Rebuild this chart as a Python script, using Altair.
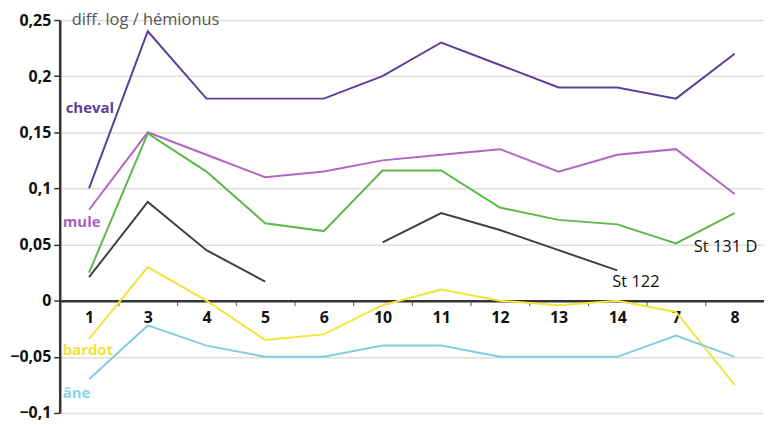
import altair as alt
import pandas as pd

cats = ["1", "3", "4", "5", "6", "10", "11", "12", "13", "14", "7", "8"]
cheval = [0.10, 0.24, 0.18, 0.18, 0.18, 0.20, 0.23, 0.21, 0.19, 0.19, 0.18, 0.22]
mule = [0.081, 0.15, 0.13, 0.11, 0.115, 0.125, 0.13, 0.135, 0.115, 0.13, 0.135, 0.095]
st131 = [0.025, 0.149, 0.115, 0.069, 0.062, 0.116, 0.116, 0.083, 0.072, 0.068, 0.051, 0.078]
st122 = [0.021, 0.088, 0.045, 0.017, None, 0.052, 0.078, 0.063, 0.045, 0.027, None, None]
bardot = [-0.034, 0.030, 0.0, -0.035, -0.030, -0.004, 0.010, 0.0, -0.004, 0.0, -0.010, -0.075]
ane = [-0.07, -0.022, -0.040, -0.050, -0.050, -0.040, -0.040, -0.050, -0.050, -0.050, -0.031, -0.050]

series_names = ["cheval", "mule", "St 131 D", "St 122", "bardot", "âne"]
series_values = [cheval, mule, st131, st122, bardot, ane]
series_colors = ["#5B3F98", "#B266C4", "#5CB848", "#404040", "#F2E43C", "#80CDE3"]

rows = []
for name, vals in zip(series_names, series_values):
    seg = 0
    for c, v in zip(cats, vals):
        if v is None:
            seg += 1
            continue
        rows.append({"series": name, "seg": f"{name}-{seg}", "cat": c, "value": v})
df = pd.DataFrame(rows)

# series labels (bold, at the left of the plot)
side_text = ["cheval", "mule", "bardot", "âne"]
side_y = [0.172, 0.070, -0.044, -0.082]
side_dx = [6, 3, 3, 3]
side_color = ["#5B3F98", "#A860C0", "#F2E33A", "#8AD3E8"]

# plain annotations
note_text = ["St 122", "St 131 D", "diff. log / hémionus"]
note_cat = ["14", "7", "1"]
note_y = [0.017, 0.048, 0.250]
note_dx = [-5, 18, 12]
note_band = [0.5, 0.5, 0.0]
note_color = ["#111111", "#111111", "#555555"]

H = 395
xscale = alt.Scale(domain=cats, paddingInner=0, paddingOuter=0)
yscale = alt.Scale(domain=[-0.1, 0.25], nice=False, zero=False)

lines = alt.Chart(df).mark_line(strokeWidth=2).encode(
    x=alt.X("cat:N", sort=cats, scale=xscale, title=None,
            axis=alt.Axis(orient="bottom", offset=-H * 0.1 / 0.35, tickBand="extent",
                          labelAngle=0, labelFont="Open Sans", labelFontSize=16,
                          labelFontWeight="bold", labelColor="#111", labelPadding=4,
                          domainColor="#333", domainWidth=2.5, tickColor="#555",
                          tickSize=5, grid=False)),
    y=alt.Y("value:Q", scale=yscale, title=None,
            axis=alt.Axis(values=[-0.1, -0.05, 0, 0.05, 0.1, 0.15, 0.2, 0.25],
                          labelExpr="replace(format(datum.value, '.2~f'), '.', ',')",
                          labelFont="Open Sans", labelFontSize=16, labelFontWeight="bold",
                          labelColor="#111", labelPadding=3, domainColor="#333",
                          domainWidth=2.5, tickColor="#333", tickSize=6, tickWidth=1.5,
                          gridColor="#E2DFDA", gridWidth=1.5)),
    color=alt.Color("series:N", scale=alt.Scale(domain=series_names, range=series_colors),
                    legend=None),
    detail="seg:N",
)

layers = [lines]
for t, y, dx, col in zip(side_text, side_y, side_dx, side_color):
    layers.append(
        alt.Chart(pd.DataFrame({"text": [t], "cat": ["1"], "y": [y]})).mark_text(
            align="left", baseline="middle", font="Open Sans", fontSize=15,
            fontWeight="bold", dx=dx, color=col).encode(
            x=alt.X("cat:N", sort=cats, scale=xscale, bandPosition=0),
            y=alt.Y("y:Q", scale=yscale),
            text="text:N",
        )
    )

for t, c, y, dx, b, col in zip(note_text, note_cat, note_y, note_dx, note_band, note_color):
    layers.append(
        alt.Chart(pd.DataFrame({"text": [t], "cat": [c], "y": [y]})).mark_text(
            align="left", baseline="middle", font="Open Sans", fontSize=16.5, dx=dx,
            color=col).encode(
            x=alt.X("cat:N", sort=cats, scale=xscale, bandPosition=b),
            y=alt.Y("y:Q", scale=yscale),
            text="text:N",
        )
    )

chart = alt.layer(*layers).properties(
    width=708, height=H,
    padding={"left": 52, "top": 11, "right": 0, "bottom": 12},
    autosize=alt.AutoSizeParams(type="none"),
).configure_view(stroke=None)

chart.save("out.html", embed_options={"renderer": "svg", "actions": False})
